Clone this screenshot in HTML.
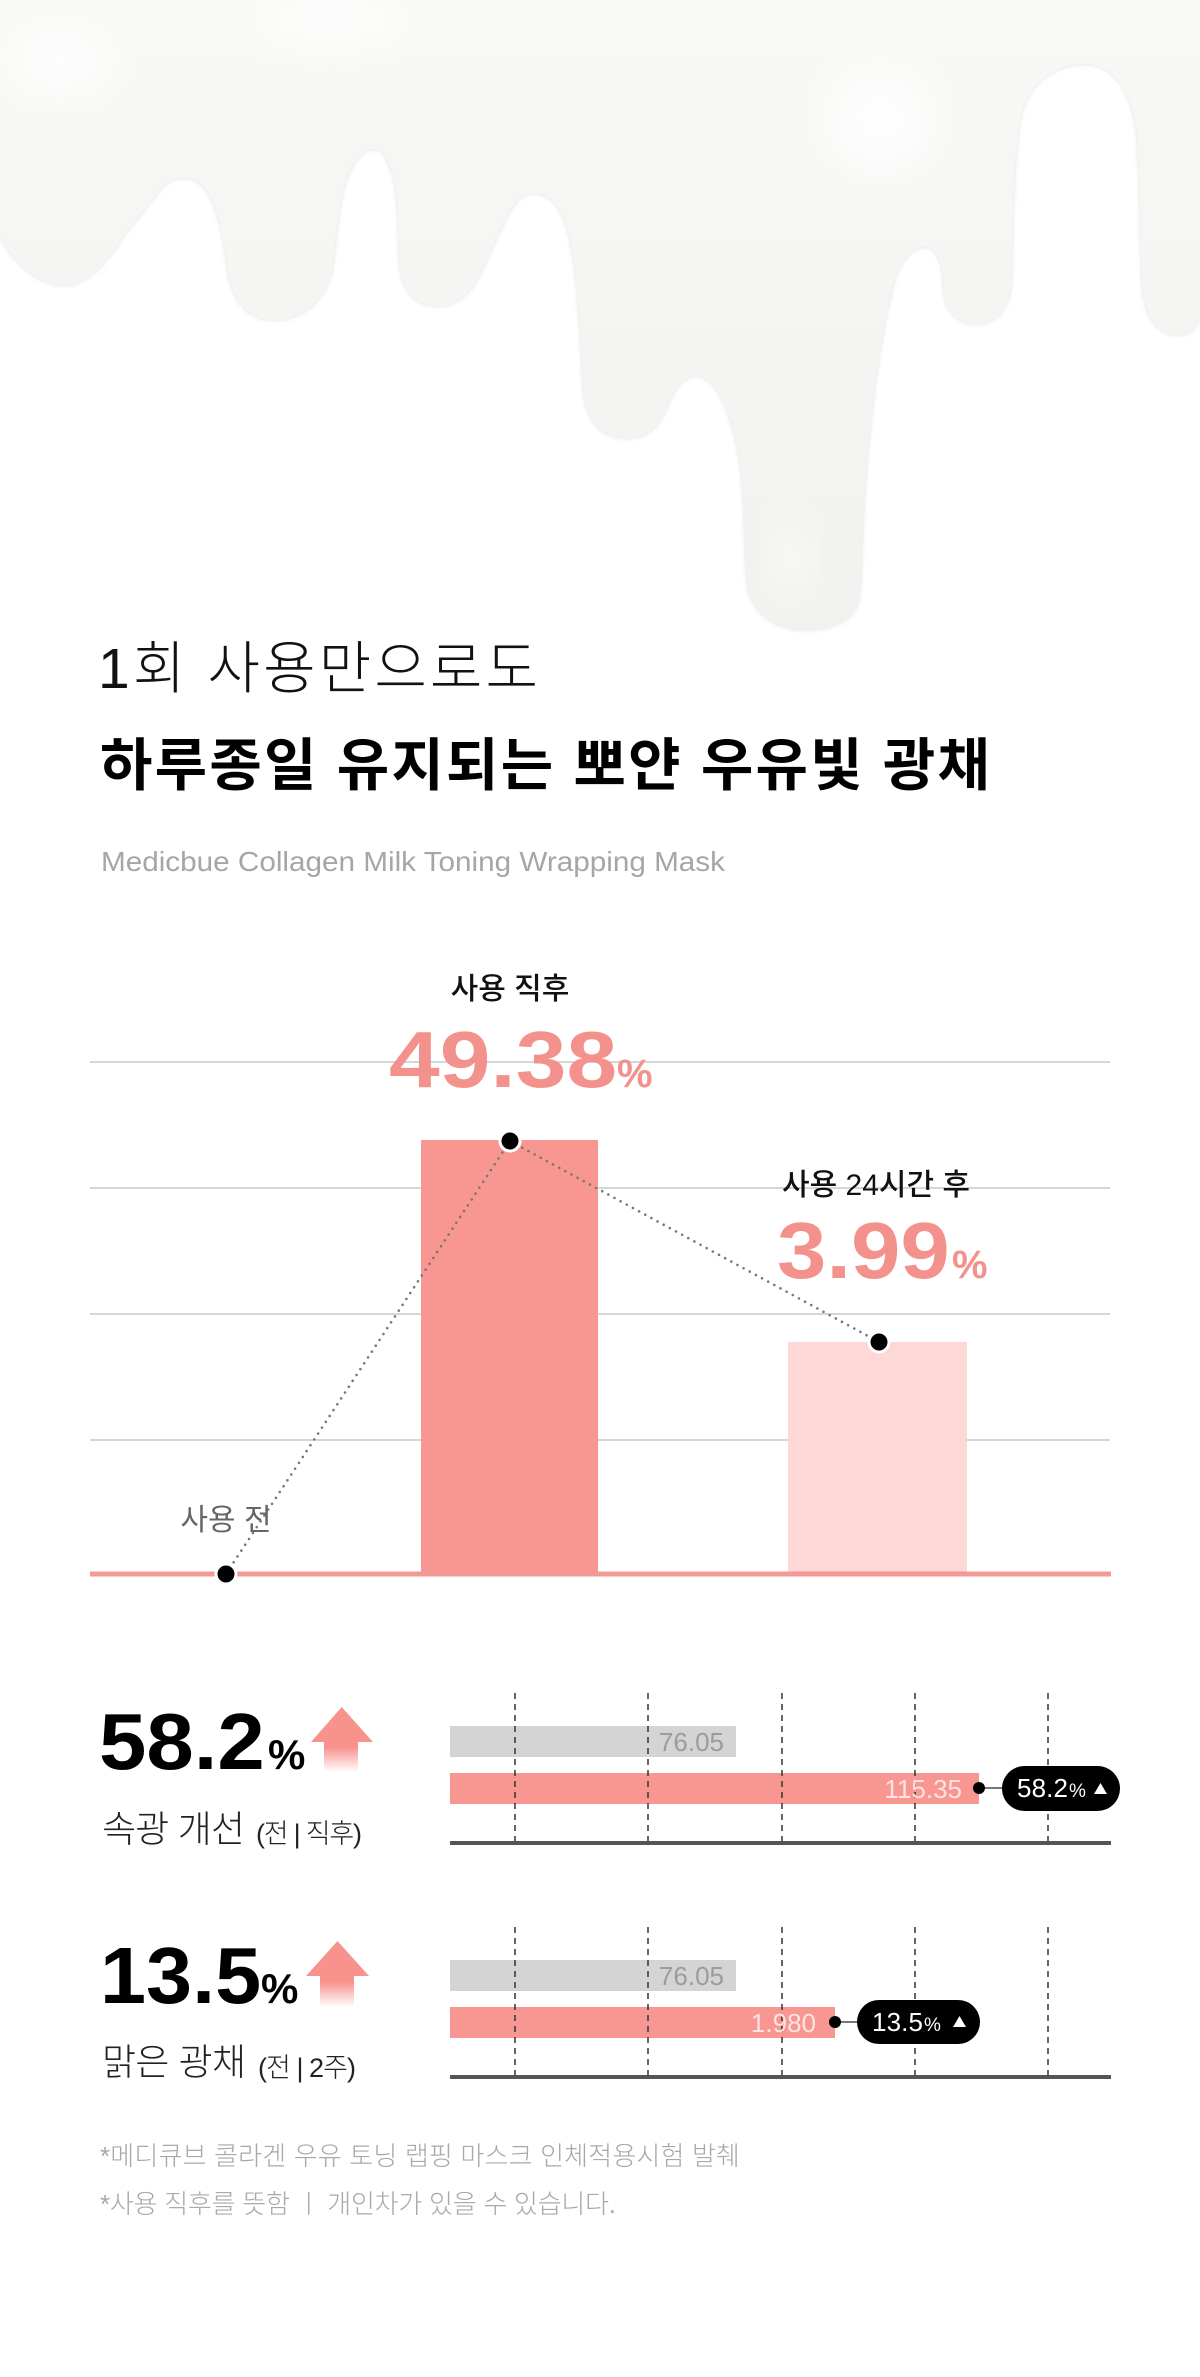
<!DOCTYPE html>
<html><head><meta charset="utf-8"><style>
html,body{margin:0;padding:0;background:#fff;}
svg{display:block;}
text{font-family:"Liberation Sans","Noto Sans CJK KR",sans-serif;}
</style></head><body>
<svg width="1200" height="2377" viewBox="0 0 1200 2377" xmlns="http://www.w3.org/2000/svg">
<defs>
<linearGradient id="milk" x1="0" y1="0" x2="0" y2="1">
<stop offset="0" stop-color="#f8f8f6"/>
<stop offset="0.6" stop-color="#f4f4f2"/>
<stop offset="1" stop-color="#f1f1ef"/>
</linearGradient>
<filter id="blur4" x="-10%" y="-10%" width="120%" height="120%"><feGaussianBlur stdDeviation="2.5"/></filter>
<filter id="blur20" x="-50%" y="-50%" width="200%" height="200%"><feGaussianBlur stdDeviation="20"/></filter>
<linearGradient id="arr" x1="0" y1="0" x2="0" y2="1">
<stop offset="0" stop-color="#f8928d"/>
<stop offset="0.62" stop-color="#f8928d"/>
<stop offset="1" stop-color="#f8928d" stop-opacity="0"/>
</linearGradient>
</defs>

<!-- milk drip -->
<path d="M0,0 H1200 V318 C1194,330 1188,335 1178,335 C1158,335 1146,318 1143,290 C1140,250 1141,180 1137,135 C1133,90 1112,64 1085,64 C1058,64 1035,78 1024,105 C1013,135 1013,220 1011,280 C1010,308 997,324 977,324 C957,324 945,310 944,290 C943,270 941,250 928,247 C912,245 900,260 893,285 C880,335 868,420 863,520 C861,560 861,590 858,603 C852,622 830,630 805,630 C776,630 752,612 748,587 C744,560 746,500 740,462 C734,420 718,377 698,376 C683,375 675,388 668,404 C660,425 650,438 627,438 C602,438 587,422 584,392 C581,350 580,300 573,255 C568,218 556,195 535,193 C520,193 512,205 505,220 C495,240 486,262 478,278 C468,296 455,306 437,306 C415,306 402,290 400,265 C398,235 400,200 393,175 C388,160 384,149 375,149 C360,149 350,165 343,190 C337,215 336,245 332,268 C325,302 302,320 274,320 C248,320 232,300 228,270 C224,240 218,200 202,185 C195,179 188,178 182,178 C172,178 166,182 158,192 C145,208 135,222 124,235 C108,260 90,284 66,285 C40,286 15,265 0,236 Z" fill="#dededa" filter="url(#blur4)"/>
<path d="M0,0 H1200 V318 C1194,330 1188,335 1178,335 C1158,335 1146,318 1143,290 C1140,250 1141,180 1137,135 C1133,90 1112,64 1085,64 C1058,64 1035,78 1024,105 C1013,135 1013,220 1011,280 C1010,308 997,324 977,324 C957,324 945,310 944,290 C943,270 941,250 928,247 C912,245 900,260 893,285 C880,335 868,420 863,520 C861,560 861,590 858,603 C852,622 830,630 805,630 C776,630 752,612 748,587 C744,560 746,500 740,462 C734,420 718,377 698,376 C683,375 675,388 668,404 C660,425 650,438 627,438 C602,438 587,422 584,392 C581,350 580,300 573,255 C568,218 556,195 535,193 C520,193 512,205 505,220 C495,240 486,262 478,278 C468,296 455,306 437,306 C415,306 402,290 400,265 C398,235 400,200 393,175 C388,160 384,149 375,149 C360,149 350,165 343,190 C337,215 336,245 332,268 C325,302 302,320 274,320 C248,320 232,300 228,270 C224,240 218,200 202,185 C195,179 188,178 182,178 C172,178 166,182 158,192 C145,208 135,222 124,235 C108,260 90,284 66,285 C40,286 15,265 0,236 Z" fill="url(#milk)"/>
<!-- highlights -->
<ellipse cx="60" cy="60" rx="55" ry="35" fill="#fff" opacity="0.8" filter="url(#blur20)"/>
<ellipse cx="880" cy="120" rx="55" ry="55" fill="#fff" opacity="0.8" filter="url(#blur20)"/>
<ellipse cx="330" cy="20" rx="80" ry="25" fill="#fff" opacity="0.8" filter="url(#blur20)"/>
<ellipse cx="790" cy="560" rx="16" ry="40" fill="#fafaf9" filter="url(#blur20)"/>

<!-- title -->
<text x="98" y="688" font-size="57" font-weight="300" fill="#111" textLength="440" lengthAdjust="spacing">1회 사용만으로도</text>
<text x="100" y="785" font-size="57" font-weight="700" fill="#000" textLength="890" lengthAdjust="spacing">하루종일 유지되는 뽀얀 우유빛 광채</text>
<text transform="translate(101,871) scale(1.06,1)" x="0" y="0" font-size="28" fill="#a6a6a6">Medicbue Collagen Milk Toning Wrapping Mask</text>

<!-- chart 1 grid -->
<g stroke="#c9c9c9" stroke-width="1.5">
<line x1="90" y1="1062" x2="1110" y2="1062"/>
<line x1="90" y1="1188" x2="1110" y2="1188"/>
<line x1="90" y1="1314" x2="1110" y2="1314"/>
<line x1="90" y1="1440" x2="1110" y2="1440"/>
</g>
<rect x="421" y="1140" width="177" height="434" fill="#f89691"/>
<rect x="788" y="1342" width="179" height="232" fill="#fdd8d6"/>
<line x1="90" y1="1574" x2="1111" y2="1574" stroke="#f29a95" stroke-width="5"/>
<g stroke="#777" stroke-width="2.6" stroke-linecap="round" stroke-dasharray="0 7" fill="none">
<line x1="226" y1="1574" x2="510" y2="1141"/>
<line x1="510" y1="1141" x2="879" y2="1342"/>
</g>
<g fill="#000" stroke="#fff" stroke-width="3">
<circle cx="226" cy="1574" r="10"/>
<circle cx="510" cy="1141" r="10"/>
<circle cx="879" cy="1342" r="10"/>
</g>
<text x="510" y="999" font-size="30" font-weight="500" fill="#111" text-anchor="middle">사용 직후</text>
<text transform="translate(389,1087) scale(1.14,1)" x="0" y="0" font-size="80" font-weight="700" fill="#f3928d">49.38</text>
<text x="617" y="1087" font-size="40" font-weight="700" fill="#f3928d">%</text>
<text x="876" y="1195" font-size="30" font-weight="500" fill="#111" text-anchor="middle">사용 24시간 후</text>
<text transform="translate(777,1278) scale(1.11,1)" x="0" y="0" font-size="80" font-weight="700" fill="#f3928d">3.99</text>
<text x="952" y="1278" font-size="40" font-weight="700" fill="#f3928d">%</text>
<text x="226" y="1530" font-size="30" fill="#666" text-anchor="middle">사용 전</text>

<!-- section 1 -->
<text transform="translate(99,1769) scale(1.065,1)" x="0" y="0" font-size="80" font-weight="700" fill="#000">58.2</text>
<text x="268" y="1769" font-size="42" font-weight="700" fill="#000">%</text>
<polygon points="341.7,1707 373,1742 358,1742 358,1772 324,1772 324,1742 311,1742" fill="url(#arr)"/>
<text x="102" y="1842" font-size="37" font-weight="300" fill="#222" textLength="143" lengthAdjust="spacing">속광 개선</text>
<text x="256" y="1843" font-size="27" font-weight="300" fill="#222" textLength="106" lengthAdjust="spacing">(전 | 직후)</text>

<rect x="450" y="1726" width="286" height="31" fill="#d4d4d4"/>
<rect x="450" y="1773" width="529" height="31" fill="#f89691"/>
<g stroke="#333" stroke-width="1.5" stroke-dasharray="6 5">
<line x1="515" y1="1693" x2="515" y2="1843"/>
<line x1="648" y1="1693" x2="648" y2="1843"/>
<line x1="782" y1="1693" x2="782" y2="1843"/>
<line x1="915" y1="1693" x2="915" y2="1843"/>
<line x1="1048" y1="1693" x2="1048" y2="1843"/>
</g>
<line x1="450" y1="1843" x2="1111" y2="1843" stroke="#555" stroke-width="4"/>
<text x="724" y="1751" font-size="26" font-weight="300" fill="#9c9c9c" text-anchor="end">76.05</text>
<text x="962" y="1798" font-size="26" font-weight="300" fill="#ffe3e0" text-anchor="end">115.35</text>
<line x1="979" y1="1788" x2="1003" y2="1788" stroke="#777" stroke-width="2"/>
<circle cx="979" cy="1788" r="6" fill="#000"/>
<rect x="1002" y="1766" width="118" height="45" rx="22.5" fill="#000"/>
<text x="1017" y="1797" font-size="26" fill="#fff" textLength="51" lengthAdjust="spacing">58.2</text>
<text x="1069" y="1797" font-size="19" fill="#fff">%</text>
<polygon points="1094,1794 1107,1794 1100.5,1783" fill="#fff"/>

<!-- section 2 -->
<text transform="translate(100,2003) scale(1.035,1)" x="0" y="0" font-size="80" font-weight="700" fill="#000">13.5</text>
<text x="261" y="2003" font-size="42" font-weight="700" fill="#000">%</text>
<polygon points="337.5,1941 369,1976 354,1976 354,2007 320,2007 320,1976 306,1976" fill="url(#arr)"/>
<text x="102" y="2075" font-size="37" font-weight="300" fill="#222" textLength="144" lengthAdjust="spacing">맑은 광채</text>
<text x="258" y="2077" font-size="27" font-weight="300" fill="#222" textLength="98" lengthAdjust="spacing">(전 | 2주)</text>

<rect x="450" y="1960" width="286" height="31" fill="#d4d4d4"/>
<rect x="450" y="2007" width="385" height="31" fill="#f89691"/>
<g stroke="#333" stroke-width="1.5" stroke-dasharray="6 5">
<line x1="515" y1="1927" x2="515" y2="2077"/>
<line x1="648" y1="1927" x2="648" y2="2077"/>
<line x1="782" y1="1927" x2="782" y2="2077"/>
<line x1="915" y1="1927" x2="915" y2="2077"/>
<line x1="1048" y1="1927" x2="1048" y2="2077"/>
</g>
<line x1="450" y1="2077" x2="1111" y2="2077" stroke="#555" stroke-width="4"/>
<text x="724" y="1985" font-size="26" font-weight="300" fill="#9c9c9c" text-anchor="end">76.05</text>
<text x="816" y="2032" font-size="26" font-weight="300" fill="#ffe3e0" text-anchor="end">1.980</text>
<line x1="835" y1="2022" x2="858" y2="2022" stroke="#777" stroke-width="2"/>
<circle cx="835" cy="2022" r="6" fill="#000"/>
<rect x="857" y="2000" width="123" height="44" rx="22" fill="#000"/>
<text x="872" y="2031" font-size="26" fill="#fff" textLength="51" lengthAdjust="spacing">13.5</text>
<text x="924" y="2031" font-size="19" fill="#fff">%</text>
<polygon points="953,2027 966,2027 959.5,2016" fill="#fff"/>

<!-- footnotes -->
<text x="100" y="2165" font-size="26" font-weight="300" fill="#a8a8a8" textLength="640" lengthAdjust="spacing">*메디큐브 콜라겐 우유 토닝 랩핑 마스크 인체적용시험 발췌</text>
<text x="100" y="2213" font-size="26" font-weight="300" fill="#a8a8a8" textLength="516" lengthAdjust="spacing">*사용 직후를 뜻함 ㅣ 개인차가 있을 수 있습니다.</text>
</svg>
</body></html>
